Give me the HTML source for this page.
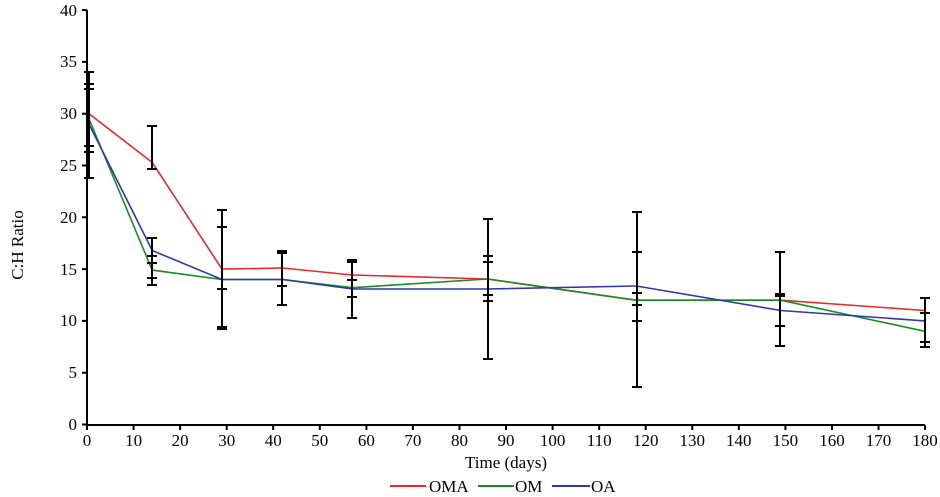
<!DOCTYPE html>
<html><head><meta charset="utf-8"><style>
html,body{margin:0;padding:0;background:#fff;}
svg{display:block;font-family:"Liberation Serif",serif;}
</style></head><body>
<svg width="940" height="497" viewBox="0 0 940 497" xmlns="http://www.w3.org/2000/svg">
<g stroke="#000" stroke-width="2" fill="none">
<line x1="87" y1="10" x2="87" y2="425"/>
<line x1="87" y1="425" x2="925" y2="425"/>
<path d="M82 424.5h5M82 372.7h5M82 320.9h5M82 269.1h5M82 217.3h5M82 165.5h5M82 113.7h5M82 61.9h5M82 10.1h5"/>
<path d="M87 425v5M133.6 425v5M180.1 425v5M226.7 425v5M273.2 425v5M319.8 425v5M366.4 425v5M412.9 425v5M459.5 425v5M506 425v5M552.6 425v5M599.2 425v5M645.7 425v5M692.3 425v5M738.8 425v5M785.4 425v5M832 425v5M878.5 425v5M925 425v5"/>
</g>
<g font-size="17" fill="#000" text-anchor="end">
<text x="77" y="430">0</text><text x="77" y="378">5</text><text x="77" y="326">10</text><text x="77" y="275">15</text><text x="77" y="223">20</text><text x="77" y="171">25</text><text x="77" y="119">30</text><text x="77" y="67">35</text><text x="77" y="16">40</text>
</g>
<g font-size="17" fill="#000" text-anchor="middle">
<text x="87" y="446">0</text><text x="133.6" y="446">10</text><text x="180.1" y="446">20</text><text x="226.7" y="446">30</text><text x="273.2" y="446">40</text><text x="319.8" y="446">50</text><text x="366.4" y="446">60</text><text x="412.9" y="446">70</text><text x="459.5" y="446">80</text><text x="506" y="446">90</text><text x="552.6" y="446">100</text><text x="599.2" y="446">110</text><text x="645.7" y="446">120</text><text x="692.3" y="446">130</text><text x="738.8" y="446">140</text><text x="785.4" y="446">150</text><text x="832" y="446">160</text><text x="878.5" y="446">170</text><text x="925" y="446">180</text>
<text x="506" y="468">Time (days)</text>
</g>
<text font-size="17" text-anchor="middle" transform="translate(23,245) rotate(-90)">C:H Ratio</text>
<g fill="none" stroke-width="1.6">
<polyline stroke="#e8282b" points="89,113.7 152.2,162.4 222,269.1 282.6,268 352.4,275 487.4,279 636.4,300.2 780.7,300.2 925,310.5"/>
<polyline stroke="#1c8a23" points="89,118.9 152.2,270.1 222,279.5 282.6,279.5 352.4,287.7 487.4,279 636.4,300.2 780.7,300.2 925,331.3"/>
<polyline stroke="#2d3aa6" points="89,124.1 152.2,250.5 222,279.5 282.6,279.5 352.4,289 487.4,289 636.4,286 780.7,310.5 925,320.9"/>
</g>
<g stroke="#000" stroke-width="2" fill="none">
<path d="M89 72V178M84 72h10M84 84h10M84 89h10M84 146h10M84 152h10M84 178h10"/>
<path d="M152 126V169M147 126h10M147 169h10M152 238V285M147 238h10M147 256h10M147 263h10M147 278h10M147 285h10"/>
<path d="M222 210V329M217 210h10M217 227h10M217 289h10M217 327h10M217 329h10"/>
<path d="M282 251V305M277 251h10M277 253h10M277 286h10M277 305h10"/>
<path d="M352 260V318M347 260h10M347 262h10M347 280h10M347 297h10M347 318h10"/>
<path d="M488 219V359M483 219h10M483 256h10M483 262h10M483 295h10M483 301h10M483 359h10"/>
<path d="M637 212V387M632 212h10M632 252h10M632 293h10M632 305h10M632 321h10M632 387h10"/>
<path d="M780 252V346M775 252h10M775 294h10M775 296h10M775 326h10M775 346h10"/>
<path d="M925 298V347M920 298h10M920 313h10M920 342h10M920 347h10"/>
</g>
<g stroke-width="2">
<line x1="390" y1="486" x2="426" y2="486" stroke="#e8282b"/>
<line x1="478" y1="486" x2="514" y2="486" stroke="#1c8a23"/>
<line x1="552" y1="486" x2="590" y2="486" stroke="#2d3aa6"/>
</g>
<g font-size="17" fill="#000">
<text x="429" y="492">OMA</text><text x="515" y="492">OM</text><text x="591" y="492">OA</text>
</g>
</svg>
</body></html>
